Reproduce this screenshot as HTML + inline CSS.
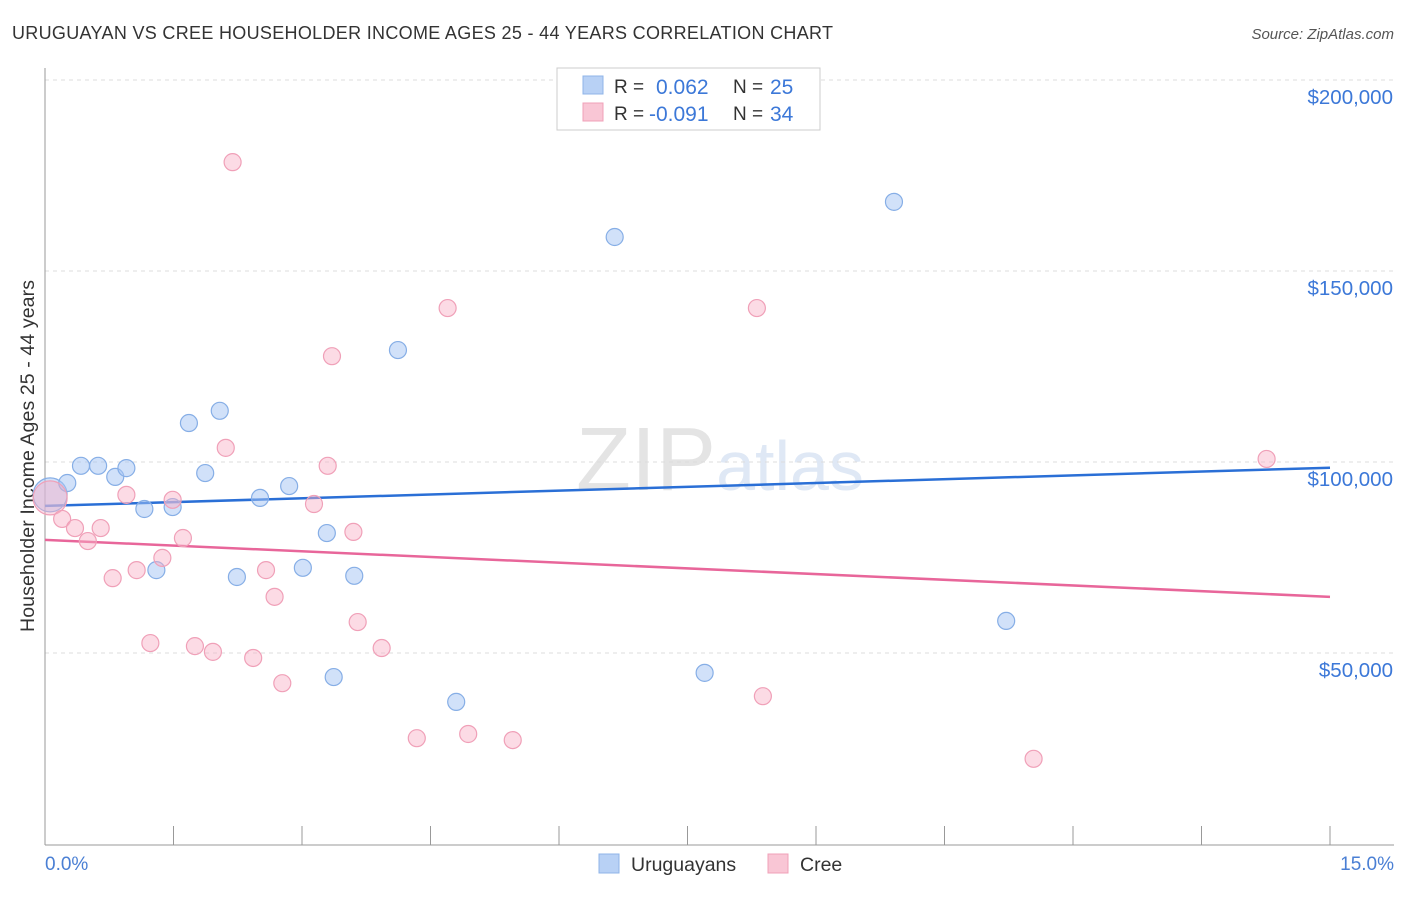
<!DOCTYPE html>
<html><head><meta charset="utf-8"><style>
body{margin:0;background:#fff;font-family:"Liberation Sans",sans-serif;}
svg text{font-family:"Liberation Sans",sans-serif;}
</style></head><body>
<svg id="chart" width="1406" height="892">
<text x="12" y="39" font-size="18" fill="#333" textLength="821">URUGUAYAN VS CREE HOUSEHOLDER INCOME AGES 25 - 44 YEARS CORRELATION CHART</text>
<text x="1394" y="39" font-size="15" fill="#555" text-anchor="end" font-style="italic">Source: ZipAtlas.com</text>
<text x="720" y="490" font-size="90" fill="#e4e4e4" text-anchor="middle" font-family="Liberation Serif">ZIP<tspan fill="#dfe8f5" font-family="Liberation Sans" font-size="70">atlas</tspan></text>
<g id="grid"></g>
<line x1="45" y1="68" x2="45" y2="845" stroke="#999"/>
<line x1="45" y1="845" x2="1394" y2="845" stroke="#999"/>
<g id="xticks"></g>
<text x="45" y="870" font-size="19" fill="#4a7fd4">0.0%</text>
<text x="1394" y="870" font-size="19" fill="#4a7fd4" text-anchor="end">15.0%</text>
<text transform="translate(34,456) rotate(-90)" font-size="19.5" fill="#333" text-anchor="middle" textLength="352">Householder Income Ages 25 - 44 years</text>
<g id="lines"></g>
<g id="points"></g>
<g>
<rect x="557" y="68" width="263" height="62" fill="#fff" stroke="#ccc"/>
<rect x="583" y="76" width="20" height="18" fill="#b8d1f5" stroke="#8fb4e8"/>
<text x="614" y="93" font-size="19" fill="#333">R =</text>
<text x="656" y="94" font-size="21" fill="#3c78d8">0.062</text>
<text x="733" y="93" font-size="19" fill="#333">N =</text>
<text x="770" y="94" font-size="21" fill="#3c78d8">25</text>
<rect x="583" y="103" width="20" height="18" fill="#f9c6d5" stroke="#f0a0b8"/>
<text x="614" y="120" font-size="19" fill="#333">R =</text>
<text x="649" y="121" font-size="21" fill="#3c78d8">-0.091</text>
<text x="733" y="120" font-size="19" fill="#333">N =</text>
<text x="770" y="121" font-size="21" fill="#3c78d8">34</text>
</g>
<g>
<rect x="599" y="854" width="20" height="19" fill="#b8d1f5" stroke="#8fb4e8"/>
<text x="631" y="871" font-size="19.5" fill="#333">Uruguayans</text>
<rect x="768" y="854" width="20" height="19" fill="#f9c6d5" stroke="#f0a0b8"/>
<text x="800" y="871" font-size="19.5" fill="#333">Cree</text>
</g>
</svg>
<script>
const yTicks=[50000,100000,150000,200000];
const yTickLabels=["$50,000","$100,000","$150,000","$200,000"];
const xTicks=[0,1.5,3,4.5,6,7.5,9,10.5,12,13.5,15];
const uruX=[0.06,0.26,0.42,0.62,0.82,0.95,1.16,1.30,1.49,1.68,1.87,2.04,2.24,2.51,2.85,3.01,3.29,3.37,3.61,4.12,4.80,6.65,7.70,9.91,11.22];
const uruY=[91400,94500,99000,99000,96100,98400,87700,71700,88200,110200,97100,113400,69900,90600,93700,72300,81400,43700,70200,129300,37200,158900,44800,168100,58400];
const creeX=[0.06,0.20,0.35,0.50,0.65,0.79,0.95,1.07,1.23,1.37,1.49,1.61,1.75,1.96,2.11,2.19,2.43,2.58,2.68,2.77,3.14,3.30,3.35,3.60,3.65,3.93,4.34,4.70,4.94,5.46,8.31,8.38,11.54,14.26];
const creeY=[90600,85100,82700,79300,82700,69600,91400,71700,52600,74900,90100,80100,51800,50300,103700,178500,48700,71700,64700,42100,89000,99000,127700,81700,58100,51300,27700,140300,28800,27200,140300,38700,22300,100800];
const uruTrend=[88500,98500];
const creeTrend=[79600,64700];
const NS="http://www.w3.org/2000/svg";
const xs=v=>45+v/15*1285;
const ys=v=>462-(v-100000)*191/50000;
function mk(tag,attrs,parent){const e=document.createElementNS(NS,tag);for(const k in attrs)e.setAttribute(k,attrs[k]);document.getElementById(parent).appendChild(e);return e;}
yTicks.forEach((t,i)=>{
 const l=mk('line',{x1:45,x2:1394,y1:ys(t),y2:ys(t),stroke:'#ddd','stroke-dasharray':'4,4'},'grid');
 
 
 const tx=mk('text',{x:1393,y:ys(t)+24,'font-size':20.5,fill:'#3c78d8','text-anchor':'end'},'grid');
 tx.textContent=yTickLabels[i];
 
 
});
xTicks.forEach(t=>{
 const l=mk('line',{x1:xs(t),x2:xs(t),y1:826,y2:845,stroke:'#999'},'xticks');
 
 
});
const bl=mk('line',{x1:xs(0),x2:xs(15),y1:ys(uruTrend[0]),y2:ys(uruTrend[1]),stroke:'#2a6fd6','stroke-width':2.5},'lines');


const pl=mk('line',{x1:xs(0),x2:xs(15),y1:ys(creeTrend[0]),y2:ys(creeTrend[1]),stroke:'#e8669a','stroke-width':2.5},'lines');


function pts(X,Y,fill,stroke,name){X.forEach((x,i)=>{
 const c=mk('circle',{cx:xs(x),cy:ys(Y[i]),r:i===0?17:8.5,fill:fill,stroke:stroke,'stroke-width':1.2},'points');
 
 
});}
pts(uruX,uruY,'rgba(164,196,244,0.5)','#86aee6','uruguayans-point');
pts(creeX,creeY,'rgba(248,176,198,0.45)','#f0a0b8','cree-point');
</script>
</body></html>
